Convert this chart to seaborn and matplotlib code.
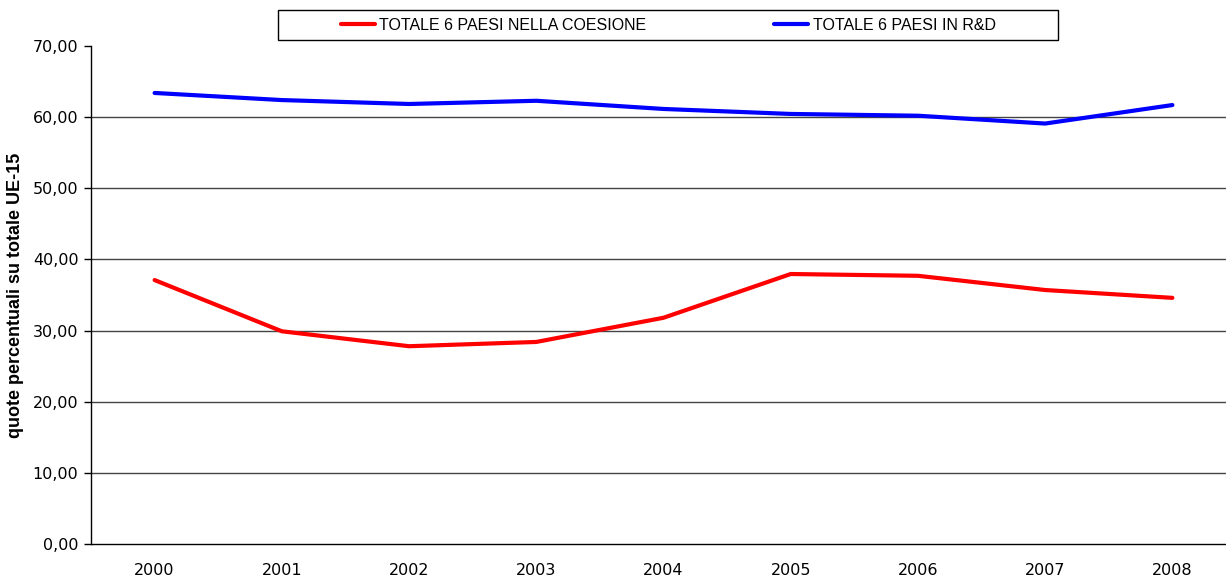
import matplotlib
matplotlib.use("Agg")
import matplotlib.pyplot as plt
import seaborn as sns
import pandas as pd
from matplotlib import font_manager as fm
from matplotlib.lines import Line2D
from matplotlib.patches import Rectangle

years = ["2000", "2001", "2002", "2003", "2004", "2005", "2006", "2007", "2008"]
coesione = [37.1, 29.9, 27.8, 28.4, 31.8, 37.95, 37.7, 35.7, 34.6]
rd = [63.4, 62.4, 61.85, 62.3, 61.15, 60.45, 60.2, 59.1, 61.7]
series_names = ["TOTALE 6 PAESI NELLA COESIONE", "TOTALE 6 PAESI IN R&D"]
yticks = [0, 10, 20, 30, 40, 50, 60, 70]

sns.set_theme(style="white")
plt.rcParams['font.family'] = ['DejaVu Sans']

names = {f.name for f in fm.fontManager.ttflist}
narrow = "Liberation Sans Narrow" if "Liberation Sans Narrow" in names else "Liberation Sans"

bold_file = None
for f in fm.fontManager.ttflist:
    base = f.fname.split("/")[-1]
    if base == "LiberationSans-Bold.ttf":
        bold_file = f.fname
        break

df = pd.DataFrame({
    "x": list(range(len(years))) * 2,
    "value": coesione + rd,
    "serie": [series_names[0]] * len(years) + [series_names[1]] * len(years),
})

fig = plt.figure(figsize=(12.26, 5.8), dpi=100)
ax = fig.add_axes([91/1226, 1 - 544/580, 1 - 91/1226, (544 - 46)/580])

for y in yticks[1:-1]:
    ax.axhline(y, color="#444444", lw=1, zorder=1)

sns.lineplot(data=df, x="x", y="value", hue="serie",
             palette={series_names[0]: "#ff0000", series_names[1]: "#0000ff"},
             lw=3, ax=ax, legend=False, zorder=3)

ax.set_xlim(-0.5, 8.5 - (1236 - 1226) / 127.25)
ax.set_ylim(0, 70)
ax.set_yticks(yticks)
ax.set_yticklabels([f"{v:.2f}".replace(".", ",") for v in yticks], fontsize=11.5)
ax.set_xticks(range(len(years)))
ax.set_xticklabels(years, fontsize=11.5)
ax.set_xticks([i + 0.5 for i in range(-1, len(years) - 1)] + [7.5], minor=True)
ax.tick_params(axis="x", which="major", length=0, pad=14)
ax.tick_params(axis="x", which="minor", length=5, width=1, color="black", direction="out")
ax.tick_params(axis="y", length=5, width=1, color="black", direction="out", left=True, pad=4)
for lab in ax.get_xticklabels() + ax.get_yticklabels():
    lab.set_color("black")

for s in ["top", "right"]:
    ax.spines[s].set_visible(False)
for s in ["left", "bottom"]:
    ax.spines[s].set_color("black")
    ax.spines[s].set_linewidth(1)

ax.set_xlabel("")
if bold_file:
    lab_fp = fm.FontProperties(fname=bold_file, size=13)
else:
    lab_fp = fm.FontProperties(family="DejaVu Sans", weight="bold", size=11.5)
ax.set_ylabel("quote percentuali su totale UE-15", fontproperties=lab_fp, color="black", labelpad=6)

# legend frame
fig.patches.append(Rectangle((278/1226, 1 - 40/580), (1058 - 278)/1226, 30/580,
                             transform=fig.transFigure, fill=True, facecolor="white",
                             edgecolor="black", lw=1, zorder=5))
handles = [Line2D([], [], color="#ff0000", lw=3), Line2D([], [], color="#0000ff", lw=3)]
leg = fig.legend(handles, series_names, loc="center left", bbox_to_anchor=(341/1226, 1 - 25/580),
                 ncol=2, frameon=False, columnspacing=8.0,
                 handlelength=2.1, handletextpad=0.3, borderpad=0.0, borderaxespad=0,
                 prop={"family": narrow, "size": 11.5}, labelcolor="black")
leg.set_zorder(6)

fig.savefig("out.png", dpi=100)
